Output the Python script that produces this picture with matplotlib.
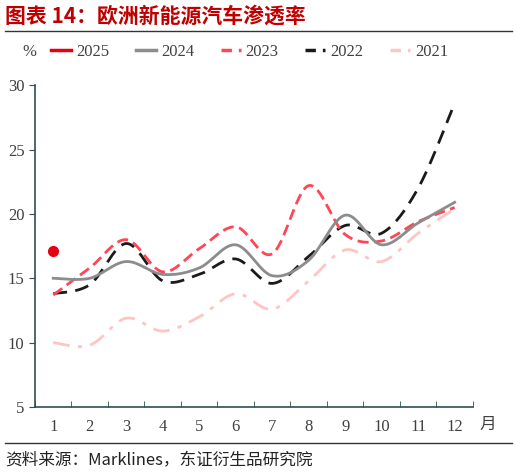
import numpy as np
import matplotlib.pyplot as plt
from matplotlib.lines import Line2D

plt.rcParams['font.family'] = ['Liberation Serif', 'Noto Sans CJK SC', 'DejaVu Sans']

months = list(range(1, 13))
month_labels = [str(m) for m in months]

y2025 = [17.1]
y2024 = [15.0, 15.0, 16.3, 15.3, 15.8, 17.6, 15.2, 16.4, 19.9, 17.6, 19.3, 20.9]
y2023 = [13.7, 15.8, 18.0, 15.5, 17.3, 19.0, 16.9, 22.2, 18.4, 17.9, 19.4, 20.5]
y2022 = [13.8, 14.5, 17.7, 14.8, 15.3, 16.5, 14.6, 16.7, 19.1, 18.5, 22.0, 28.6]
y2021 = [10.0, 9.8, 11.9, 10.9, 12.0, 13.8, 12.6, 14.8, 17.2, 16.3, 18.5, 20.4]


def smooth(x, y, n=30):
    # Excel-style smoothed line (Bezier through the points)
    x = np.asarray(x, float)
    y = np.asarray(y, float)
    px = np.concatenate([[x[0]], x, [x[-1]]])
    py = np.concatenate([[y[0]], y, [y[-1]]])
    xs, ys = [], []
    t = np.linspace(0, 1, n)
    for i in range(1, len(px) - 2):
        p0x, p1x, p2x, p3x = px[i - 1:i + 3]
        p0y, p1y, p2y, p3y = py[i - 1:i + 3]
        c1x = p1x + (p2x - p0x) / 6
        c1y = p1y + (p2y - p0y) / 6
        c2x = p2x - (p3x - p1x) / 6
        c2y = p2y - (p3y - p1y) / 6
        bx = (1 - t) ** 3 * p1x + 3 * (1 - t) ** 2 * t * c1x + 3 * (1 - t) * t ** 2 * c2x + t ** 3 * p2x
        by = (1 - t) ** 3 * p1y + 3 * (1 - t) ** 2 * t * c1y + 3 * (1 - t) * t ** 2 * c2y + t ** 3 * p2y
        xs.extend(bx)
        ys.extend(by)
    return xs, ys


fig = plt.figure(figsize=(5.17, 4.76), dpi=100)
ax = fig.add_axes([0.0677, 0.145, 0.847, 0.676])

axis_col = '#2f4f4f'
c2025 = '#e60012'
c2024 = '#8c8c8c'
c2023 = '#ff4655'
c2022 = '#1a1a1a'
c2021 = '#ffc4c4'

sx, sy = smooth(months, y2021)
ax.plot(sx, sy, color=c2021, lw=2, linestyle=(0, (6, 3, 1.5, 3)))
sx, sy = smooth(months, y2022)
ax.plot(sx, sy, color=c2022, lw=2, linestyle=(0, (5, 3)))
sx, sy = smooth(months, y2023)
ax.plot(sx, sy, color=c2023, lw=2, linestyle=(0, (4, 2)))
sx, sy = smooth(months, y2024)
ax.plot(sx, sy, color=c2024, lw=2)
ax.plot(months[:len(y2025)], y2025, 'o', color=c2025, ms=7)

ax.set_xlim(0.5, 12.5)
ax.set_ylim(5, 30)
ax.set_yticks([5, 10, 15, 20, 25, 30])
ax.set_xticks(months)
ax.set_xticklabels(month_labels)
ax.set_xticks(np.arange(0.5, 13, 1), minor=True)
ax.tick_params(axis='x', which='major', length=0, pad=9, labelsize=12, colors='#404040')
ax.tick_params(axis='x', which='minor', direction='in', length=4, color=axis_col)
ax.tick_params(axis='y', direction='out', length=4, labelsize=12, colors='#404040', color=axis_col)
for s in ['top', 'right']:
    ax.spines[s].set_visible(False)
for s in ['left', 'bottom']:
    ax.spines[s].set_color(axis_col)
    ax.spines[s].set_linewidth(1.2)

fig.text(488 / 517, 1 - 424 / 476, '月', fontsize=12, color='#404040',
         family=['Noto Sans CJK SC'], ha='center', va='center')

# title and rules
fig.text(5 / 517, 1 - 16 / 476, '图表 14：欧洲新能源汽车渗透率', fontsize=15, color='#c00000',
         fontweight='bold', family=['Noto Sans CJK SC', 'DejaVu Sans'], va='center')
fig.add_artist(Line2D([5 / 517, 512 / 517], [1 - 31 / 476] * 2, color='#333333', lw=1))
fig.add_artist(Line2D([5 / 517, 512 / 517], [1 - 443 / 476] * 2, color='#333333', lw=1))
fig.text(5 / 517, 1 - 461 / 476, '资料来源：Marklines，东证衍生品研究院', fontsize=12,
         color='#222222', family=['Noto Sans CJK SC', 'DejaVu Sans'], va='center')

# legend
fig.text(22 / 517, 1 - 52 / 476, '%', fontsize=12, color='#404040', va='center')
handles = [
    Line2D([], [], color=c2025, lw=2.5),
    Line2D([], [], color=c2024, lw=2.5),
    Line2D([], [], color=c2023, lw=2.5, linestyle=(0, (3, 2))),
    Line2D([], [], color=c2022, lw=2.5, linestyle=(0, (3, 2, 1, 2))),
    Line2D([], [], color=c2021, lw=2.5, linestyle=(0, (3, 2, 1, 2))),
]
leg = fig.legend(handles, ['2025', '2024', '2023', '2022', '2021'], ncol=5, frameon=False,
                 loc='center left', bbox_to_anchor=(36 / 517, 1 - 52 / 476),
                 fontsize=12, handlelength=1.2, handletextpad=0.3, columnspacing=1.6)
for t in leg.get_texts():
    t.set_color('#404040')

fig.savefig('out.png', dpi=100)
